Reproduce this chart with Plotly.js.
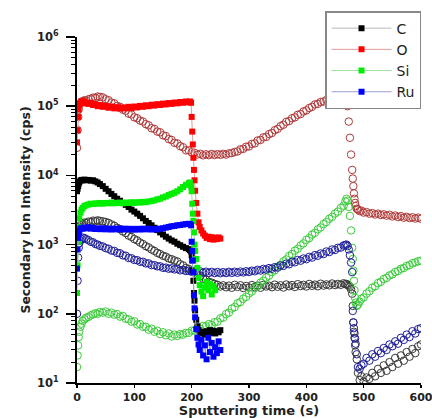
<!DOCTYPE html>
<html>
<head>
<meta charset="utf-8">
<script src="https://cdn.plot.ly/plotly-3.0.1.min.js"></script>
<style>html,body{margin:0;padding:0;background:#fff;}#chart{width:432px;height:418px;}</style>
</head>
<body>
<div id="chart"></div>
<script>
// ---- Sample A (filled squares), time in s ----
const tSq = [0,1,2,3,4,6,8,10,13,16,20,24,28,32,36,40,
  45,50,55,60,65,70,75,80,85,90,95,100,105,110,115,120,125,130,135,140,
  145,150,155,160,165,170,175,180,185,190,195,
  197,199,200,201,202,203,204,205,206,208,210,212,214,
  217,220,223,226,229,232,235,238,241,244,247,250];
const cSq = [5900,6400,7000,7600,8000,8400,8600,8500,8700,8500,8600,8400,8500,8200,7900,7500,
  7000,6400,5900,5400,5000,4600,4300,4000,3750,3500,3200,3000,2800,2600,2400,2200,2050,1900,1750,1620,
  1500,1400,1300,1220,1150,1100,1030,980,930,890,860,
  830,800,700,590,420,300,200,155,112,82,66,58,54,
  52,55,50,56,52,58,53,57,52,56,54,58];
const oSq = [30000,45000,70000,90000,105000,112000,118000,113000,117000,110000,108000,112000,104000,107000,100000,104000,
  98000,101000,95000,99000,93000,97000,92000,96000,93000,98000,94000,99000,96000,101000,98000,103000,100000,105000,102000,107000,
  104000,109000,106000,111000,108000,113000,110000,115000,112000,117000,114000,
  117000,112000,70000,43000,28000,18000,12000,8500,6000,4000,2800,2100,1800,
  1600,1450,1350,1250,1300,1200,1280,1180,1250,1200,1270,1220];
const siSq = [200,500,1100,1800,2400,2900,3200,3400,3600,3700,3800,3900,3850,3950,3900,4000,
  3900,4000,3950,4050,3950,4000,4050,3950,4050,4000,4100,4000,4100,4050,4150,4100,4200,4250,4350,4500,
  4600,4800,4950,5200,5400,5600,5900,6300,6800,7300,7700,
  7900,7000,5900,3900,2800,2200,1500,1000,810,620,460,330,260,
  210,180,240,290,220,270,190,250,220,null,null,null];
const ruSq = [450,850,1250,1500,1600,1700,1750,1700,1750,1720,1780,1700,1750,1680,1720,1670,
  1720,1660,1700,1650,1700,1660,1710,1650,1700,1660,1690,1640,1690,1650,1700,1660,1700,1650,1680,1660,
  1700,1720,1760,1800,1840,1860,1900,1920,1950,1980,2000,
  1980,1900,1100,810,590,400,185,120,89,60,45,36,30,
  42,25,35,22,45,28,38,24,33,27,40,30];

// ---- Sample B (open circles), time in s ----
const tCi = [0,1,2,3,4,6,8,10,13,16,20,24,28,32,36,40,
  45,50,55,60,65,70,75,80,85,90,
  95,100,105,110,115,120,125,130,135,140,
  145,150,155,160,165,170,175,180,185,190,
  195,200,205,210,215,220,225,230,235,240,
  245,250,255,260,265,270,275,280,285,290,
  295,300,305,310,315,320,325,330,335,340,
  345,350,355,360,365,370,375,380,385,390,
  395,400,405,410,415,420,425,430,435,440,
  445,450,455,460,465,
  468,470,472,474,476,478,480,481,482,483,484,485,486,488,490,493,496,
  500,505,510,515,520,525,530,535,540,545,
  550,555,560,565,570,575,580,585,590,595,600];
const oCi = [25000,45000,70000,90000,105000,110000,116000,118000,122000,120000,126000,128000,133000,132000,138000,136000,
  134000,126000,122000,113000,110000,101000,98000,89000,86000,78000,
  76000,69000,67000,62000,60000,55000,53000,48000,47000,43000,
  42000,38000,37000,33500,32500,29500,29000,26500,25500,23000,
  23000,21500,21200,20000,20500,19500,20200,19600,20400,19700,
  20300,19800,20500,20000,20800,21000,21800,22200,23800,24200,
  26000,26200,28500,29000,32000,32500,35500,36000,39500,41000,
  45000,47000,51500,54000,59500,61000,67000,69000,75000,77000,
  84000,87000,94000,98000,106000,108000,115000,117000,123000,124000,
  129000,130000,133000,132000,136000,
  134000,130000,100000,60000,35000,20000,12000,9000,7000,5500,4600,4000,3600,3300,3200,3050,3100,
  2900,2950,2800,2850,2720,2800,2680,2740,2620,2700,
  2550,2630,2500,2580,2450,2520,2420,2480,2380,2450,2360];
const cCi = [1400,1500,1600,1720,1800,1900,1950,2000,2080,2050,2150,2120,2220,2180,2240,2200,
  2170,2120,2060,1960,1870,1750,1670,1550,1470,1350,
  1290,1200,1150,1070,1020,950,910,850,810,760,
  730,690,670,630,615,590,570,520,500,460,
  445,420,405,370,350,320,310,290,282,270,
  262,248,258,242,255,238,262,245,258,236,
  252,240,260,244,256,238,262,248,255,242,
  264,246,258,240,265,250,260,244,268,252,
  262,248,270,254,264,250,272,256,266,258,
  274,260,270,262,276,
  268,270,262,255,245,225,195,130,75,55,45,35,28,22,14,11,12.5,
  10.5,12,11.5,14,12.5,16,14,18,15,20,
  17,23,19,25,21,28,24,31,27,34,36];
const siCi = [17,25,35,46,55,65,72,79,83,88,90,95,98,102,100,106,
  104,108,100,104,97,99,91,93,85,83,
  77,78,70,71,65,65,59,61,55,57,
  51,54,49,52,47,50,48,51,50,53,
  53,57,57,62,61,67,66,71,69,76,
  77,86,88,99,104,119,125,142,148,165,
  176,197,210,235,250,282,300,335,355,402,
  425,480,510,572,610,685,730,815,870,975,
  1040,1170,1240,1395,1480,1660,1770,1980,2110,2360,
  2520,2810,3000,3380,3650,
  4200,4600,4300,3500,2600,1600,900,620,420,300,220,170,145,130,135,150,165,
  172,196,212,238,250,278,290,318,330,358,
  372,402,415,448,458,492,505,538,552,575,585];
const ruCi = [100,300,650,900,1050,1150,1200,1260,1240,1200,1160,1100,1080,1020,1000,960,
  940,890,870,820,810,760,750,700,690,640,
  635,600,595,565,565,535,535,505,505,485,
  485,462,465,448,455,438,445,425,432,415,
  420,405,415,398,410,392,406,390,404,388,
  402,386,400,388,404,390,406,392,408,396,
  412,402,420,412,432,422,445,436,458,448,
  472,465,500,492,530,520,565,555,600,585,
  630,615,665,650,705,690,745,730,795,780,
  850,835,900,905,970,
  990,1000,950,850,700,550,400,110,75,62,52,44,37,26,17,16,18,
  19,23,21,26,24,29,27,32,30,36,
  34,40,37,45,42,50,46,56,52,60,62];

const names = ['C','O','Si','Ru'];
const yTickVals = [10,100,1000,10000,100000,1000000];
const yTickText = ['10<sup>1</sup>','10<sup>2</sup>','10<sup>3</sup>','10<sup>4</sup>','10<sup>5</sup>','10<sup>6</sup>'];
const xTickVals = [0,100,200,300,400,500,600];

const circleSets = [[cCi,'#3a3a3a'],[oCi,'#b03a3a'],[siCi,'#3ccc3c'],[ruCi,'#20209a']];
const squareSets = [[cSq,'#000000','#b8b8b8'],[oSq,'#ff0000','#e09a9a'],[siSq,'#00ee00','#9ee09e'],[ruSq,'#0000ff','#9c9cd8']];

const traces = [];
circleSets.forEach(function(s){
  traces.push({x:tCi, y:s[0], type:'scatter', mode:'markers', showlegend:false, hoverinfo:'skip',
    marker:{symbol:'circle-open', size:7.5, color:s[1], line:{width:1, color:s[1]}}});
});
squareSets.forEach(function(s,i){
  traces.push({x:tSq, y:s[0], type:'scatter', mode:'lines+markers', name:names[i], connectgaps:false,
    line:{color:s[2], width:1}, marker:{symbol:'square', size:6, color:s[1]}});
});

const fam = 'DejaVu Sans, Liberation Sans, Arial';
const tickFont = {family:fam, size:11, weight:'bold', color:'#222'};
const layout = {
  width:432, height:418,
  margin:{l:77, r:11, t:35, b:35},
  paper_bgcolor:'#fff', plot_bgcolor:'#fff',
  showlegend:true,
  legend:{x:0.721, xanchor:'left', y:1.075, yanchor:'top', bgcolor:'#fff', bordercolor:'#888', borderwidth:1.5,
    font:{family:fam, size:14, color:'#222'}, itemwidth:60, tracegroupgap:0},
  xaxis:{range:[0,600], tickmode:'array', tickvals:xTickVals, ticks:'outside', ticklen:3, tickwidth:1.5, tickcolor:'#000',
    showline:true, linewidth:2, linecolor:'#000', showgrid:false, zeroline:false, tickfont:tickFont,
    ticklabeloverflow:'allow', automargin:false,
    title:{text:'Sputtering time (s)', font:{family:fam, size:13, weight:'bold', color:'#222'}, standoff:1}},
  yaxis:{type:'log', range:[1,6], tickmode:'array', tickvals:yTickVals, ticktext:yTickText, ticks:'outside', ticklen:9, tickwidth:1.5, tickcolor:'#000',
    showline:true, linewidth:2, linecolor:'#000', showgrid:false, zeroline:false, tickfont:{family:fam, size:11.5, weight:'bold', color:'#222'},
    automargin:false, ticklabelstandoff:5,
    minor:{ticks:'outside', ticklen:4, tickwidth:1, tickcolor:'#000', dtick:'D1', showgrid:false},
    title:{text:'Secondary Ion Intensity (cps)', font:{family:fam, size:12.5, weight:'bold', color:'#222'}, standoff:4}}
};
Plotly.newPlot('chart', traces, layout, {staticPlot:true, displayModeBar:false});
</script>
</body>
</html>
